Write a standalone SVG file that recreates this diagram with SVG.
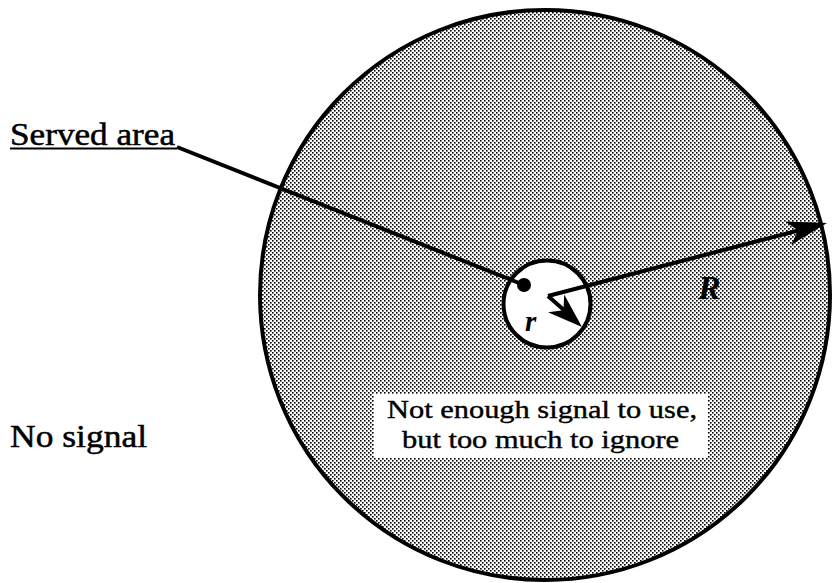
<svg xmlns="http://www.w3.org/2000/svg" width="832" height="583" viewBox="0 0 832 583">
<style>
.t{font-family:"Liberation Serif","DejaVu Serif",serif;font-size:31px;fill:#000;stroke:#000;stroke-width:0.5}
.tb{font-family:"Liberation Serif","DejaVu Serif",serif;font-size:26px;fill:#000;stroke:#000;stroke-width:0.4}
.ti{font-family:"Liberation Serif","DejaVu Serif",serif;font-style:italic;font-weight:bold;fill:#000}
.ln{stroke:#000;stroke-width:4;fill:none}
</style>
<defs>
<pattern id="dots" width="4" height="4" patternUnits="userSpaceOnUse">
<rect width="4" height="4" fill="#fff"/>
<rect x="0" y="0" width="1.6" height="1.6" fill="#000"/>
<rect x="2" y="2" width="1.6" height="1.6" fill="#000"/>
</pattern>
</defs>
<rect width="832" height="583" fill="#fff"/>
<g id="fringe">
<circle cx="545" cy="295" r="285" fill="url(#dots)" stroke="#000" stroke-width="4"/>
<rect x="374" y="394" width="334" height="64" fill="#fff"/>
<text class="tb" x="387" y="418" textLength="310" lengthAdjust="spacingAndGlyphs">Not enough signal to use,</text>
<text class="tb" x="402" y="448" textLength="277" lengthAdjust="spacingAndGlyphs">but too much to ignore</text>
</g>
<g id="served">
<circle cx="547" cy="304" r="43.5" fill="#fff" stroke="#000" stroke-width="4"/>
<circle cx="524" cy="285" r="7" fill="#000"/>
</g>
<g id="labels">
<text class="t" x="10" y="145" textLength="165" lengthAdjust="spacingAndGlyphs">Served area</text>
<line x1="10" y1="148.5" x2="177" y2="148.5" stroke="#000" stroke-width="2"/>
<text class="t" x="10" y="447" textLength="137" lengthAdjust="spacingAndGlyphs">No signal</text>
<text class="ti" x="698" y="299" style="font-size:34px">R</text>
<text class="ti" x="525" y="331" style="font-size:29px">r</text>
</g>
<g id="connectors">
<line class="ln" x1="177" y1="147" x2="524" y2="285"/>
<line class="ln" x1="548" y1="296" x2="800" y2="230"/>
<path d="M827,223 L785.3,221.5 L798,230.6 L791.3,244.7 Z" fill="#000"/>
<line class="ln" x1="548" y1="296" x2="565" y2="311"/>
<path d="M582,327 L564.2,294.5 L563.5,310.2 L548,312.3 Z" fill="#000"/>
</g>
</svg>
